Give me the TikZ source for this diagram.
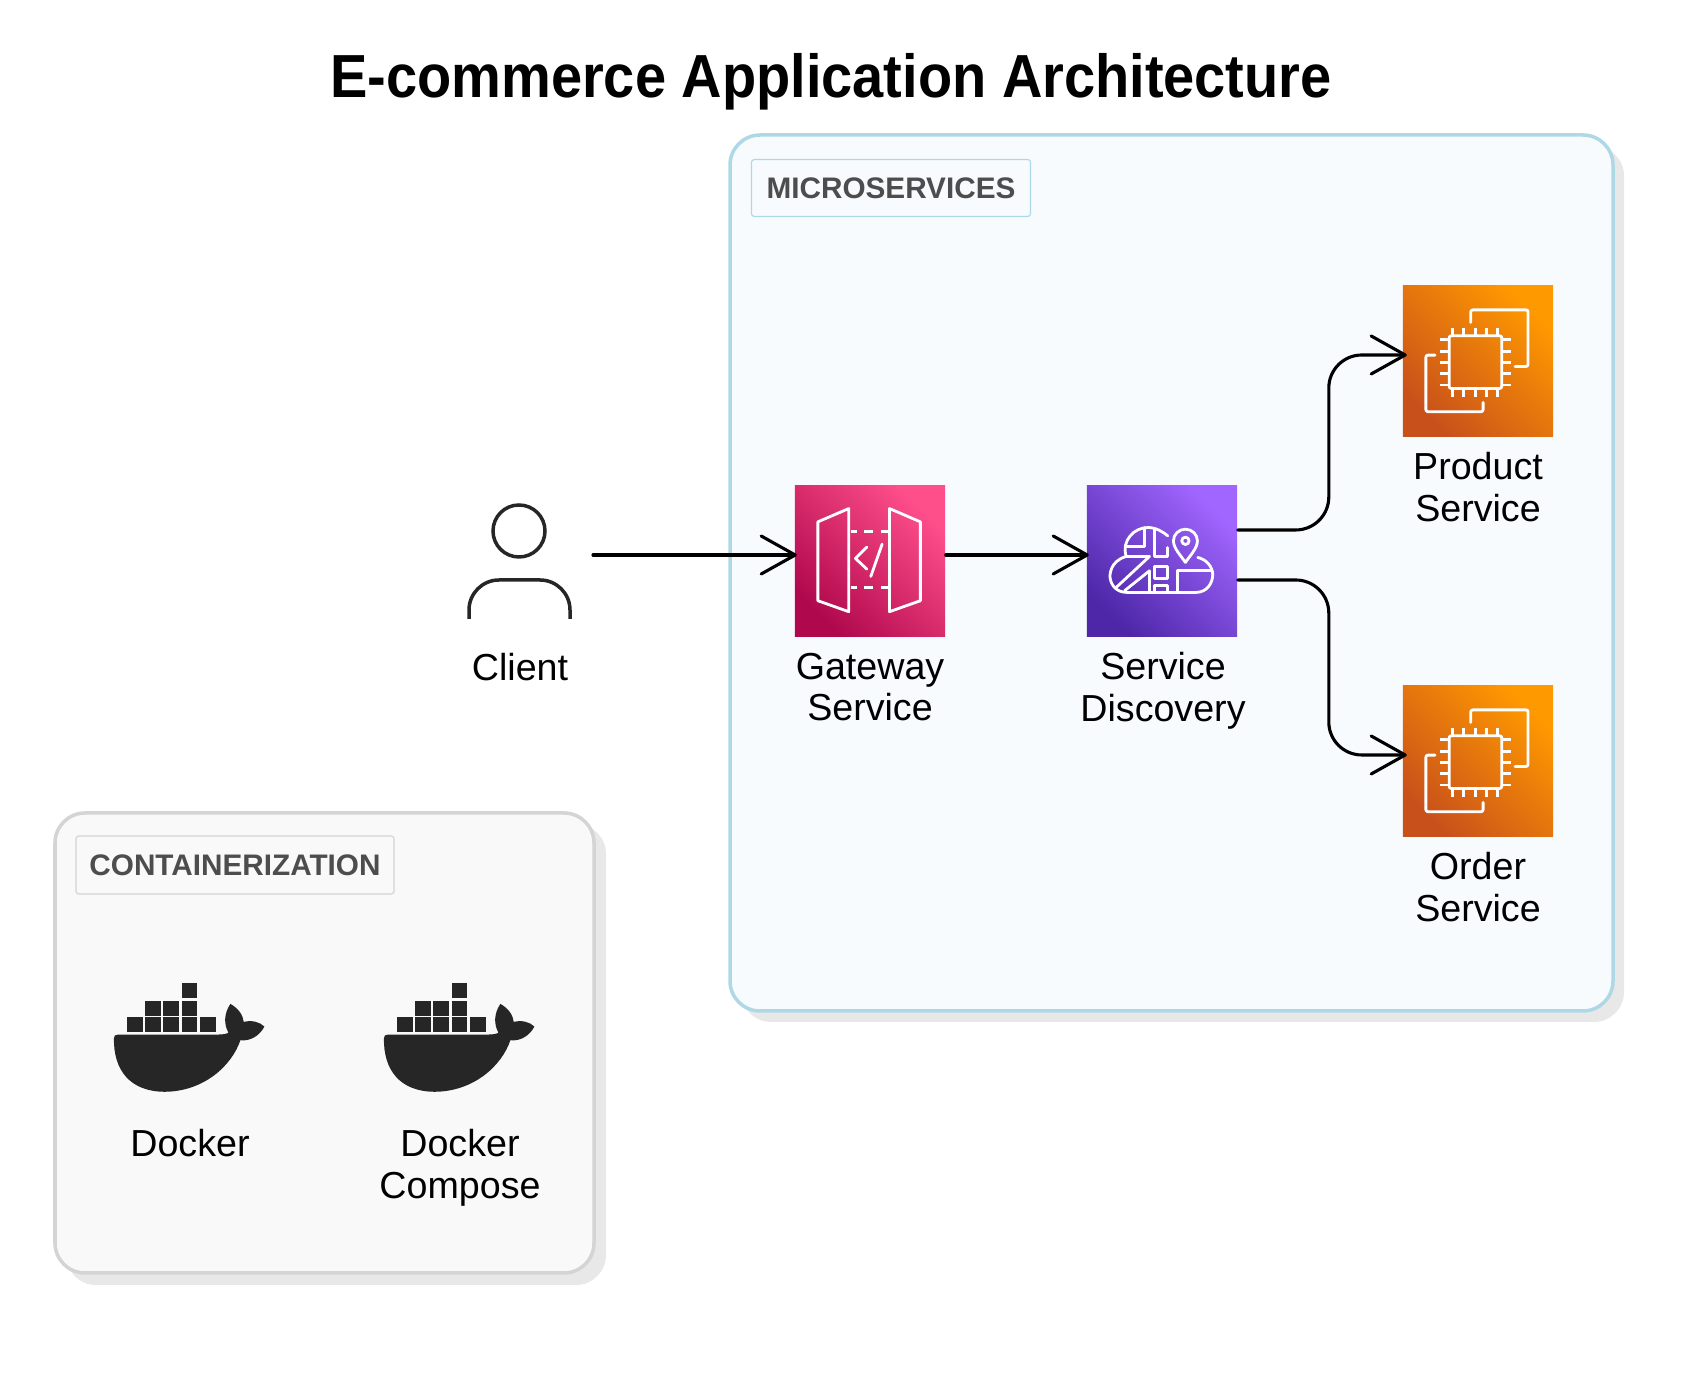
\documentclass[tikz,border=0pt]{standalone}
\usepackage{fontspec}
\setmainfont{Liberation Sans}
\usetikzlibrary{arrows.meta}
\definecolor{microfill}{HTML}{F7FBFE}
\definecolor{microline}{HTML}{AFD8E6}
\definecolor{contfill}{HTML}{F9F9F9}
\definecolor{contline}{HTML}{D4D4D4}
\definecolor{shadowgrey}{HTML}{E8E8E8}
\definecolor{tagtext}{HTML}{4D4D4D}
\definecolor{whaleblack}{HTML}{262626}
\definecolor{gateA}{HTML}{B0084D}
\definecolor{gateB}{HTML}{FF4F8B}
\definecolor{discA}{HTML}{4D27A8}
\definecolor{discB}{HTML}{A166FF}
\definecolor{ecA}{HTML}{C8511B}
\definecolor{ecB}{HTML}{FF9900}
\tikzset{
    iconbox/.style 2 args={minimum size=1.5cm, inner sep=0pt, bottom color=#1, top color=#2, shading angle=-45},
    iconline/.style={white, line width=0.028cm, line join=round, line cap=round},
    flow/.style={black, line width=0.031cm, line cap=round, shorten >=-0.025cm, -{Straight Barb[length=0.34cm,width=0.38cm,round]}},
    caption/.style={align=center, inner sep=0pt, font=\fontsize{10.7}{11.8}\selectfont},
    tag/.style={draw, inner sep=0pt, rounded corners=0.03cm, line width=0.012cm, text=tagtext, font=\bfseries\fontsize{8.45}{11}\selectfont},
    gatewayicon/.pic={
        \begin{scope}[x=0.003333cm,y=-0.003333cm,iconline]
            \draw (164,70)--(71,110)--(71,347)--(164,380)--cycle;
            \draw (286,70)--(379,110)--(379,347)--(286,380)--cycle;
            \draw[line cap=butt] (171,139)--(188,139) (211,139)--(236,139) (261,139)--(281,139);
            \draw[line cap=butt] (171,307)--(188,307) (211,307)--(236,307) (261,307)--(281,307);
            \draw (218,186)--(184,220)--(218,252);
            \draw (264,177)--(230,274);
        \end{scope}
    },
    discoveryicon/.pic={
        \begin{scope}[x=0.003333cm,y=-0.003333cm,iconline]
            \draw (120,214) .. controls (70,228) and (70,272) .. (72,280) .. controls (76,305) and (95,322) .. (122,322)
                -- (330,322) .. controls (362,322) and (380,295) .. (380,268) .. controls (380,245) and (360,222) .. (335,217);
            \draw (120,214) .. controls (105,165) and (145,127) .. (185,127) .. controls (210,127) and (230,140) .. (245,152);
            \draw (120,184)--(175,184)--(175,127);
            \draw (205,130)--(205,214)--(245,214)--(245,187);
            \draw (90,307)--(190,214)--(120,214);
            \draw (115,317)--(190,257)--(190,322);
            \draw (205,244) rectangle (245,280);
            \draw (205,322)--(205,302)--(245,302)--(245,322);
            \draw (275,322)--(275,257)--(375,257);
            \draw (298,232) .. controls (285,212) and (262,190) .. (262,167) .. controls (262,148) and (278,132) .. (298,132)
                .. controls (318,132) and (334,148) .. (334,167) .. controls (334,190) and (311,212) .. (298,232);
            \draw (298,167) circle (11);
        \end{scope}
    },
    chipicon/.pic={
        \begin{scope}[x=0.003333cm,y=-0.003333cm,iconline]
            \draw[rounded corners=0.02cm] (141,152) rectangle (299,310);
            \foreach \p in {0,1,2,3,4}{
                \draw[line cap=butt] (151+\p*34,127)--(151+\p*34,152);
                \draw[line cap=butt] (151+\p*34,310)--(151+\p*34,337);
                \draw[line cap=butt] (113,164+\p*34)--(141,164+\p*34);
                \draw[line cap=butt] (299,164+\p*34)--(326,164+\p*34);
            }
            \draw[rounded corners=0.02cm] (206,112)--(206,74)--(378,74)--(378,244)--(339,244);
            \draw[rounded corners=0.02cm] (99,210)--(71,210)--(71,380)--(243,380)--(243,352);
        \end{scope}
    },
    whaleicon/.pic={
        \begin{scope}[x=0.003333cm,y=-0.003333cm]
            \fill[whaleblack] (72,235) .. controls (72,228) and (76,224) .. (84,224) -- (385,224)
                .. controls (400,224) and (412,222) .. (416,218) .. controls (402,195) and (402,160) .. (422,132)
                .. controls (445,145) and (460,165) .. (462,186) .. controls (485,180) and (510,186) .. (524,200)
                .. controls (510,228) and (480,245) .. (452,241) .. controls (425,320) and (340,395) .. (225,396)
                .. controls (120,396) and (70,330) .. (72,235) -- cycle;
            \foreach \bx/\by in {110/172,165/172,220/172,275/172,330/172,165/122,220/122,275/122,275/70}{
                \fill[whaleblack] (\bx,\by) rectangle (\bx+48,\by+45);
            }
        \end{scope}
    }
}

\begin{document}
\begin{tikzpicture}[x=0.01cm,y=-0.01cm]
    \useasboundingbox (0,0) rectangle (1708,1383);

    \node[inner sep=0pt, anchor=base, xscale=0.92, font=\bfseries\fontsize{17.3}{20}\selectfont] (title) at (831,98) {E-commerce Application Architecture};

    % microservices panel
    \fill[shadowgrey, rounded corners=0.3cm] (741,146) rectangle (1624,1022);
    \draw[microline, fill=microfill, line width=0.035cm, rounded corners=0.3cm] (730,135) rectangle (1613,1011);
    \node[tag, draw=microline, fill=microfill, minimum width=2.79cm, minimum height=0.57cm] (microtag) at (891,188) {MICROSERVICES};

    % containerization panel
    \fill[shadowgrey, rounded corners=0.3cm] (66,824) rectangle (606,1285);
    \draw[contline, fill=contfill, line width=0.035cm, rounded corners=0.3cm] (55,813) rectangle (594,1273);
    \node[tag, draw=contline, fill=contfill, minimum width=3.18cm, minimum height=0.58cm] (conttag) at (235,865) {CONTAINERIZATION};

    % client
    \draw[whaleblack, line width=0.035cm] (519,531) circle (26);
    \draw[whaleblack, line width=0.035cm, rounded corners=0.3cm] (469,619)--(469,580)--(570,580)--(570,619);
    \node[caption] (clientlabel) at (520,667) {Client};
    \coordinate (clientout) at (593,555);

    % services
    \node[iconbox={gateA}{gateB}] (gateway) at (870,561) {};
    \node[iconbox={discA}{discB}] (discovery) at (1162,561) {};
    \pic at (gateway.north west) {gatewayicon};
    \pic at (discovery.north west) {discoveryicon};
    \node[caption] (gatewaylabel) at (870,687) {Gateway\\Service};
    \node[caption] (discoverylabel) at (1163,691) {Service\\Discovery};
    \foreach \nm/\ypos/\txt in {product/361/Product,order/761/Order}{
        \node[iconbox={ecA}{ecB}] (\nm) at (1478,\ypos) {};
        \pic at (\nm.north west) {chipicon};
        \node[caption] (\nm label) at (1478,\ypos+126) {\txt\\Service};
    }

    % connectors
    \draw[flow] (clientout) -- (clientout -| gateway.west);
    \draw[flow] ([yshift=0.06cm]gateway.east) -- ([yshift=0.06cm]discovery.west);
    \draw[flow, rounded corners=0.33cm] ([yshift=0.31cm]discovery.east) -- +(0.91cm,0) |- ([xshift=0.02cm,yshift=0.06cm]product.west);
    \draw[flow, rounded corners=0.33cm] ([yshift=-0.19cm]discovery.east) -- +(0.91cm,0) |- ([xshift=0.02cm,yshift=0.06cm]order.west);

    % docker
    \foreach \nm/\xpos in {dockerone/90,dockertwo/360}{
        \coordinate (\nm) at (\xpos,960);
        \pic at (\nm) {whaleicon};
    }
    \node[caption] (dockerlabel) at (190,1143) {Docker};
    \node[caption] (composelabel) at (460,1168) {Docker\\Compose};
\end{tikzpicture}
\end{document}
